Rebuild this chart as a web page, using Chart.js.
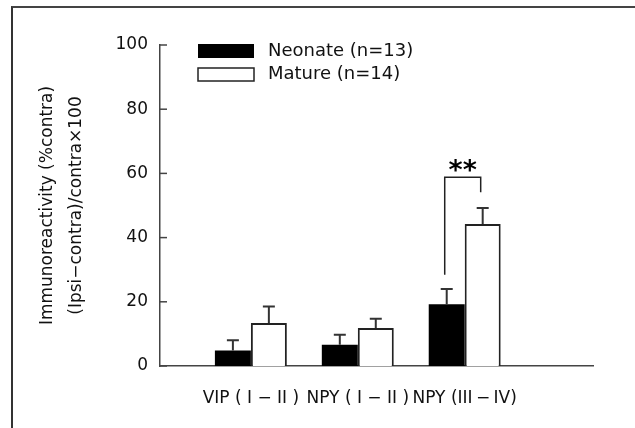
<!DOCTYPE html>
<html>
<head>
<meta charset="utf-8">
<script src="https://cdn.jsdelivr.net/npm/chart.js@4"></script>
<style>
  body { margin: 0; background: #fff; }
  #wrap { position: relative; width: 635px; height: 428px; overflow: hidden; }
  #cornice { position: absolute; left: 11px; top: 6px; width: 700px; height: 500px;
             border-left: 2px solid #333; border-top: 2px solid #444; }
</style>
</head>
<body>
<div id="wrap">
  <canvas id="grafico" width="635" height="428"></canvas>
  <div id="cornice"></div>
</div>
<script>
// dati
var categorie = ['VIP ( I \u2212 II )', 'NPY ( I \u2212 II )', 'NPY (III\u2009\u2212\u2009IV)'];
var posizioni = [1, 2, 3];
var neonate = [4.8, 6.6, 19.2];
var neonateErr = [3.2, 3.1, 4.8];
var mature = [13.4, 11.8, 44.2];
var matureErr = [5.1, 2.9, 5.0];
var etichette = ['Neonate (n=13)', 'Mature (n=14)'];
var tickY = [0, 20, 40, 60, 80, 100];
// parentesi di significativita' (in unita' dei dati)
var sigCategoria = 2;
var sigBase = [28.4, 54.1];
var sigTop = 58.8;
var sigStelle = 62.4;

var font = 'DejaVu Sans';
var grigio = '#444';

function punti(valori){
  var result = [];
  for (var i = 0; i < valori.length; i++) {
    result.push({x: posizioni[i], y: valori[i]});
  }
  return result;
}

// barre di errore (solo verso l'alto)
var barreErrore = {
  id: 'barreErrore',
  afterDatasetsDraw: function(chart){
    var ctx = chart.ctx;
    var y = chart.scales.y;
    [neonateErr, matureErr].forEach(function(errori, d){
      var valori = d === 0 ? neonate : mature;
      chart.getDatasetMeta(d).data.forEach(function(bar, i){
        var cima = y.getPixelForValue(valori[i] + errori[i]);
        ctx.save();
        ctx.strokeStyle = '#333';
        ctx.lineWidth = 2;
        ctx.beginPath();
        ctx.moveTo(bar.x, bar.y);
        ctx.lineTo(bar.x, cima);
        ctx.moveTo(bar.x - 6, cima);
        ctx.lineTo(bar.x + 6, cima);
        ctx.stroke();
        ctx.restore();
      });
    });
  }
};

// tacche asse y verso l'interno, parentesi, stelle, legenda
var extra = {
  id: 'extra',
  afterDraw: function(chart){
    var ctx = chart.ctx;
    var y = chart.scales.y;
    var a = chart.chartArea;
    ctx.save();
    ctx.strokeStyle = grigio;
    ctx.lineWidth = 1.5;
    tickY.forEach(function(v){
      var py = y.getPixelForValue(v);
      ctx.beginPath();
      ctx.moveTo(a.left, py);
      ctx.lineTo(a.left + 7, py);
      ctx.stroke();
    });

    var b0 = chart.getDatasetMeta(0).data[sigCategoria];
    var b1 = chart.getDatasetMeta(1).data[sigCategoria];
    var xs = b0.x - 2, xd = b1.x - 2;
    ctx.strokeStyle = '#222';
    ctx.lineWidth = 1.5;
    ctx.beginPath();
    ctx.moveTo(xs, y.getPixelForValue(sigBase[0]));
    ctx.lineTo(xs, y.getPixelForValue(sigTop));
    ctx.lineTo(xd, y.getPixelForValue(sigTop));
    ctx.lineTo(xd, y.getPixelForValue(sigBase[1]));
    ctx.stroke();

    ctx.fillStyle = '#000';
    ctx.font = 'bold 27px "' + font + '"';
    ctx.textAlign = 'center';
    ctx.textBaseline = 'alphabetic';
    var m = ctx.measureText('**');
    var cy = y.getPixelForValue(sigStelle);
    ctx.fillText('**', (xs + xd) / 2, cy + (m.actualBoundingBoxAscent - m.actualBoundingBoxDescent) / 2);

    // legenda
    ctx.font = '18px "' + font + '"';
    ctx.textAlign = 'left';
    ctx.textBaseline = 'middle';
    chart.data.datasets.forEach(function(ds, i){
      var ly = a.top + 6 + i * 23.5;
      if (i === 0) {
        ctx.fillStyle = ds.backgroundColor;
        ctx.fillRect(a.left + 38, ly - 7, 56, 14);
      } else {
        ctx.fillStyle = ds.backgroundColor;
        ctx.fillRect(a.left + 38, ly - 6.5, 56, 13);
        ctx.strokeStyle = ds.borderColor;
        ctx.lineWidth = 1.5;
        ctx.strokeRect(a.left + 38, ly - 6.5, 56, 13);
      }
      ctx.fillStyle = '#111';
      ctx.fillText(ds.label, a.left + 108, ly);
    });
    ctx.restore();
  }
};

var chart = new Chart(document.getElementById('grafico'), {
  type: 'bar',
  data: {
    datasets: [{
      label: etichette[0],
      data: punti(neonate),
      backgroundColor: '#000',
      borderWidth: 0
    },
    {
      label: etichette[1],
      data: punti(mature),
      backgroundColor: '#fff',
      borderColor: '#222',
      borderWidth: 2
    }]
  },
  options: {
    responsive: false,
    animation: false,
    layout: {padding: {top: 45, right: 42, bottom: 0, left: 0}},
    categoryPercentage: 0.673,
    barPercentage: 1,
    plugins: {
      legend: {display: false},
      tooltip: {enabled: false}
    },
    scales: {
      x: {
        type: 'linear',
        min: 0.15,
        max: 4.2,
        offset: false,
        grid: {display: false},
        border: {display: true, color: grigio, width: 1.5},
        afterBuildTicks: function(scale){
          scale.ticks = posizioni.map(function(v){ return {value: v}; });
        },
        afterFit: function(scale){ scale.height = 62; },
        ticks: {
          padding: 14,
          color: '#111',
          autoSkip: false,
          maxRotation: 0,
          font: {family: font, size: 17},
          callback: function(v){ return categorie[posizioni.indexOf(v)]; }
        }
      },
      y: {
        min: 0,
        max: 100,
        grid: {display: false},
        border: {display: true, color: grigio, width: 1.5},
        afterBuildTicks: function(scale){
          scale.ticks = tickY.map(function(v){ return {value: v}; });
        },
        afterFit: function(scale){ scale.width = 160; },
        ticks: {
          padding: 4,
          color: '#111',
          font: {family: font, size: 17}
        },
        title: {
          display: true,
          text: ['Immunoreactivity (%contra)', '(Ipsi\u2212contra)/contra\u00d7100'],
          color: '#111',
          font: {family: font, size: 17, lineHeight: '29px'},
          padding: {top: 33, bottom: 0}
        }
      }
    }
  },
  plugins: [barreErrore, extra]
});
</script>
</body>
</html>
